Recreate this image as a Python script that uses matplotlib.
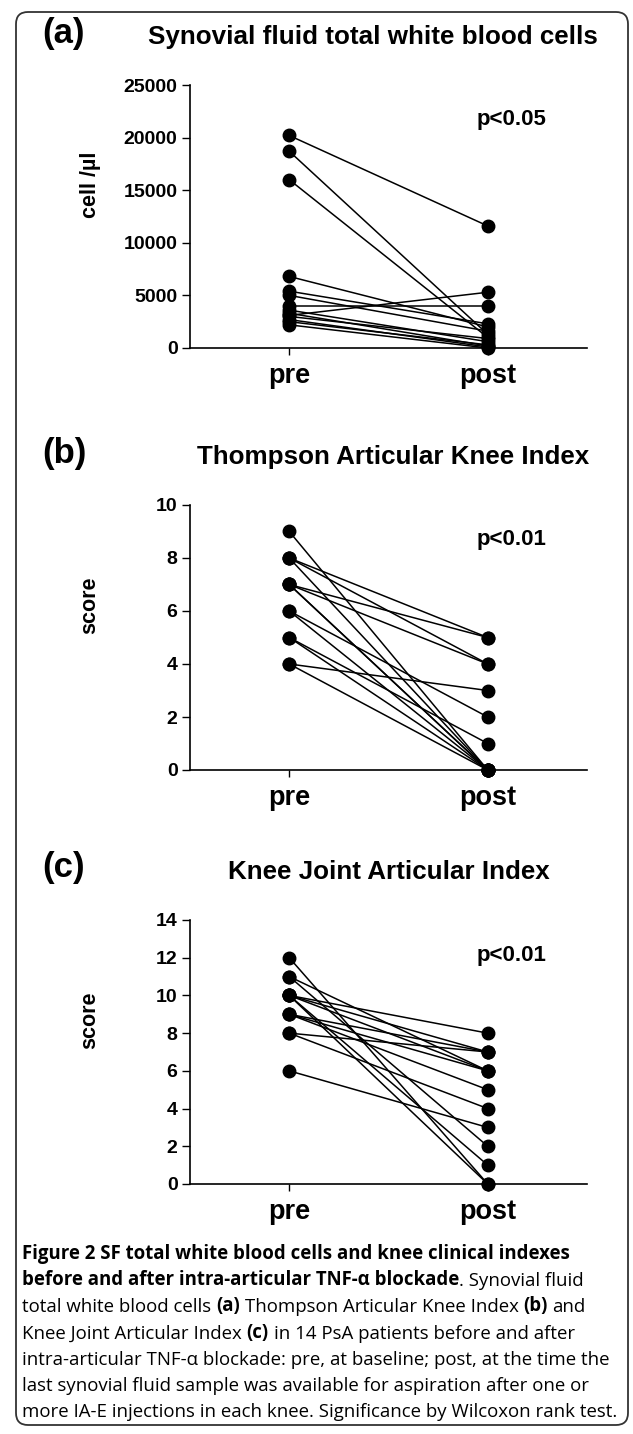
import matplotlib
matplotlib.use('Agg')
import matplotlib.pyplot as plt
from matplotlib.patches import FancyBboxPatch
from matplotlib.transforms import IdentityTransform

plt.rcParams['font.family'] = ['Liberation Sans', 'DejaVu Sans']

GROUPS = ['pre', 'post']

# panel (a) synovial fluid white blood cells, cell/ul
WBC_PRE = [20200, 18700, 16000, 6800, 5400, 5000, 4000, 3100, 3600, 3300, 3000, 2700, 2500, 2200]
WBC_POST = [11600, 1300, 1000, 2000, 2300, 1600, 4000, 5300, 600, 200, 900, 100, 300, 0]

# panel (b) Thompson Articular Knee Index
TAKI_PRE = [9, 8, 8, 8, 7, 7, 7, 7, 6, 6, 5, 5, 4, 4]
TAKI_POST = [0, 5, 4, 0, 5, 4, 0, 0, 2, 0, 1, 0, 3, 0]

# panel (c) Knee Joint Articular Index
KJAI_PRE = [12, 11, 11, 10, 10, 10, 10, 10, 9, 9, 9, 8, 8, 6]
KJAI_POST = [0, 6, 2, 8, 7, 6, 1, 0, 7, 6, 5, 7, 4, 3]

PANELS = [
    ('(a)', 'Synovial fluid total white blood cells', 'cell /\u00b5l', 'p<0.05',
     WBC_PRE, WBC_POST, 25000, 5000),
    ('(b)', 'Thompson Articular Knee Index', 'score', 'p<0.01',
     TAKI_PRE, TAKI_POST, 10, 2),
    ('(c)', 'Knee Joint Articular Index', 'score', 'p<0.01',
     KJAI_PRE, KJAI_POST, 14, 2),
]

W, H = 633, 1434
# axes boxes in pixels from the top: (top, bottom)
AX_ROWS = [(85, 348), (505, 770), (920, 1184)]
AX_LEFT, AX_RIGHT = 190, 587
TITLE_X = [373, 393, 389]

CAPTION = [
    [('Figure 2 SF total white blood cells and knee clinical indexes', True)],
    [('before and after intra-articular TNF-\u03b1 blockade', True), ('. Synovial fluid', False)],
    [('total white blood cells', False), ('(a)', True), ('Thompson Articular Knee Index', False),
     ('(b)', True), ('and', False)],
    [('Knee Joint Articular Index', False), ('(c)', True), ('in 14 PsA patients before and after', False)],
    [('intra-articular TNF-\u03b1 blockade: pre, at baseline; post, at the time the', False)],
    [('last synovial fluid sample was available for aspiration after one or', False)],
    [('more IA-E injections in each knee. Significance by Wilcoxon rank test.', False)],
]


def draw_panel(fig, row, panel, title_x):
    tag, title, ylabel, pval, pre, post, ymax, ystep = panel
    top, bottom = AX_ROWS[row]
    ax = fig.add_axes([AX_LEFT / W, 1 - bottom / H, (AX_RIGHT - AX_LEFT) / W, (bottom - top) / H])

    for a, b in zip(pre, post):
        ax.plot([0, 1], [a, b], color='black', lw=1.1, marker='o', ms=9,
                mfc='black', mec='black', clip_on=False, zorder=3)

    ax.set_xlim(-0.5, 1.5)
    ax.set_ylim(0, ymax)
    ax.set_yticks(range(0, ymax + 1, ystep))
    ax.set_xticks([0, 1])
    ax.set_xticklabels(GROUPS, fontsize=19.5, fontweight='bold')
    for lab in ax.get_yticklabels():
        lab.set_fontsize(14)
        lab.set_fontweight('bold')
    ax.tick_params(axis='y', length=6, width=1, pad=3)
    ax.tick_params(axis='x', length=5, width=1, pad=6)
    for side in ['top', 'right']:
        ax.spines[side].set_visible(False)
    for side in ['left', 'bottom']:
        ax.spines[side].set_linewidth(1.2)
    ax.set_ylabel(ylabel, fontsize=15.5, fontweight='bold')
    ax.yaxis.set_label_coords(-0.225, 0.62)
    # p-value: x in data units, y in axes fraction
    ax.text(1.12, 1 - 35 / (bottom - top), pval, transform=ax.get_xaxis_transform(),
            ha='center', va='center', fontsize=16, fontweight='bold')

    fig.text(64 / W, 1 - (top - 52) / H, tag, ha='center', va='center', fontsize=25, fontweight='bold')
    fig.text(title_x / W, 1 - (top - 48) / H, title, ha='center', va='center', fontsize=18.7, fontweight='bold')


def draw_caption(fig):
    cap = fig.add_axes([0, 0, 1, 1])
    cap.axis('off')
    size = 13.4
    gap = 0.26 * size
    y0 = 1264
    for i, pieces in enumerate(CAPTION):
        y = 1 - (y0 + i * 26.2) / H
        prev = None
        for text, bold in pieces:
            weight = 'bold' if bold else 'normal'
            if prev is None:
                prev = cap.text(22 / W, y, text, transform=fig.transFigure, fontsize=size,
                                fontweight=weight, family=['Open Sans', 'DejaVu Sans'], va='bottom')
            else:
                dx = 0 if text[0] in '.,:;' else gap
                prev = cap.annotate(text, xy=(1, 0), xycoords=prev, xytext=(dx, 0),
                                    textcoords='offset points', fontsize=size, fontweight=weight,
                                    family=['Open Sans', 'DejaVu Sans'], va='bottom')


def main():
    fig = plt.figure(figsize=(W / 100, H / 100), dpi=100)
    border = FancyBboxPatch((16, H - 1425), 612, 1413,
                            boxstyle='round,pad=0,rounding_size=12',
                            transform=IdentityTransform(), fill=False,
                            edgecolor='#333333', linewidth=1.3)
    fig.patches.append(border)

    for row, panel in enumerate(PANELS):
        draw_panel(fig, row, panel, TITLE_X[row])

    draw_caption(fig)
    fig.savefig('out.png', dpi=100)


if __name__ == '__main__':
    main()
